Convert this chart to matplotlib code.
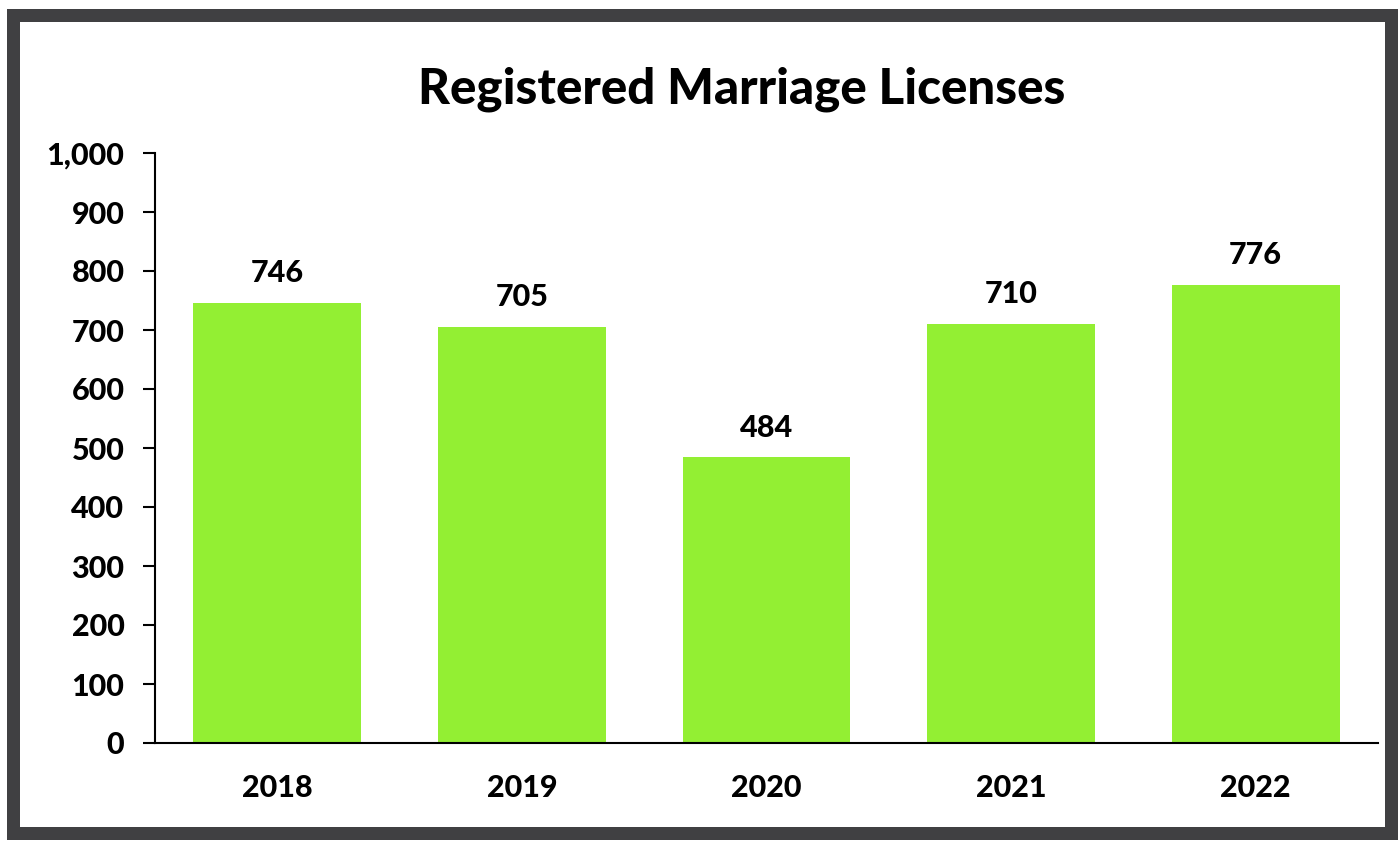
import matplotlib.pyplot as plt
from matplotlib.patches import Rectangle
import matplotlib.ticker as ticker

years = ['2018', '2019', '2020', '2021', '2022']
licenses = [746, 705, 484, 710, 776]
y_ticks = list(range(0, 1001, 100))

plt.rcParams['font.family'] = ['Lato', 'DejaVu Sans']
plt.rcParams['font.weight'] = 'black'

fig = plt.figure(figsize=(13.98, 8.42), dpi=100)
W, H = 1398, 842

# dark frame: grey outer block, white inner panel
fig.patches.append(Rectangle((7 / W, 2 / H), (W - 7) / W, (833 - 2) / H,
                             transform=fig.transFigure, facecolor='#404042',
                             edgecolor='none', zorder=-2))
fig.patches.append(Rectangle((20 / W, 15 / H), (1385 - 20) / W, (820 - 15) / H,
                             transform=fig.transFigure, facecolor='white',
                             edgecolor='none', zorder=-1))

ax = fig.add_axes([155 / W, (H - 743) / H, (1378 - 155) / W, (743 - 153) / H])
ax.patch.set_alpha(0)
x = list(range(len(years)))
ax.bar(x, licenses, width=0.686, color='#93EF33', zorder=2)

for xi, v in zip(x, licenses):
    ax.text(xi, v + 27, f'{v}', ha='center', va='bottom',
            fontsize=22, fontweight='black')

ax.set_xlim(-0.5, 4.5)
ax.set_ylim(0, 1000)
ax.set_xticks(x)
ax.set_xticklabels(years)
ax.set_yticks(y_ticks)
ax.yaxis.set_major_formatter(ticker.FuncFormatter(lambda v, p: f'{int(v):,}'))
ax.tick_params(axis='x', length=0, pad=22, labelsize=22)
ax.tick_params(axis='y', length=9, width=1.5, pad=13, labelsize=22)
for lab in ax.get_xticklabels() + ax.get_yticklabels():
    lab.set_fontweight('black')

ax.spines['top'].set_visible(False)
ax.spines['right'].set_visible(False)
ax.spines['left'].set_linewidth(1.5)
ax.spines['bottom'].set_linewidth(1.5)

fig.text(742 / W, (H - 89) / H, 'Registered Marriage Licenses',
         ha='center', va='center', fontsize=35.5, fontweight='black')

fig.savefig('out.png', dpi=100)
